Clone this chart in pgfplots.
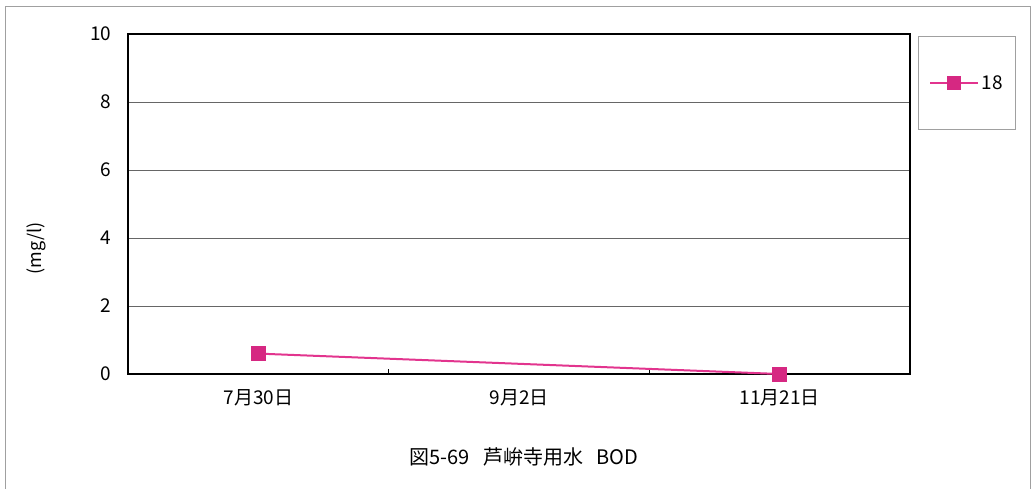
\documentclass[border=0pt]{standalone}
\usepackage{pgfplots}
\pgfplotsset{compat=1.18}
\usepackage{fontspec}
\setmainfont{Noto Sans CJK JP}
\definecolor{pinkline}{RGB}{226,52,142}
\definecolor{pinkmark}{RGB}{214,40,130}
\definecolor{framegray}{RGB}{160,160,160}
\begin{document}
\begin{tikzpicture}[x=1pt,y=1pt]
\useasboundingbox (0,0) rectangle (1034,488);
\draw[framegray,line width=1pt] (5,-20) -- (5,481) -- (1030,481) -- (1030,-20);
\begin{axis}[
  at={(128pt,114pt)}, anchor=south west,
  width=782pt, height=340pt, scale only axis,
  xmin=-0.5, xmax=2.5, ymin=0, ymax=10,
  xtick={0,1,2}, xticklabels={7月30日,9月2日,11月21日},
  minor xtick={0.5,1.5},
  xtick pos=lower, ytick pos=left,
  ytick={0,2,4,6,8,10},
  major tick length=0pt,
  minor tick length=5pt,
  minor tick style={black,line width=0.8pt},
  tick align=inside,
  ymajorgrids, major grid style={gray!80!black,line width=0.8pt},
  axis line style={black,line width=1.8pt},
  tick label style={font=\fontsize{19}{21}\selectfont},
  /pgf/number format/assume math mode=true,
  xticklabel style={yshift=-12pt},
  yticklabel style={xshift=-13pt},
  ylabel={(mg/l)},
  ylabel style={font=\fontsize{18}{20}\selectfont, at={(axis description cs:-0.117,0.37)}, anchor=center},
  legend style={at={(axis description cs:1.0102,0.994)}, anchor=north west,
    draw=framegray, line width=1pt, inner xsep=11pt, inner ysep=37pt,
    font=\fontsize{19}{21}\selectfont, row sep=0pt},
  legend cell align=left,
  legend image code/.code={
    \draw[pinkline,line width=2pt] (0pt,0pt) -- (48pt,0pt);
    \fill[pinkmark] (18pt,-6pt) rectangle (30pt,6pt);
  },
]
\addplot[pinkline, line width=2pt, mark=square*, mark size=7pt,
  mark options={fill=pinkmark, draw=pinkmark, line width=0.5pt}]
  coordinates {(0,0.6) (2,0)};
\addlegendentry{18}
\end{axis}
\node[font=\fontsize{20}{22}\selectfont] at (524,31) {図5-69\ \ \ 芦峅寺用水\ \ \ BOD};
\end{tikzpicture}
\end{document}
